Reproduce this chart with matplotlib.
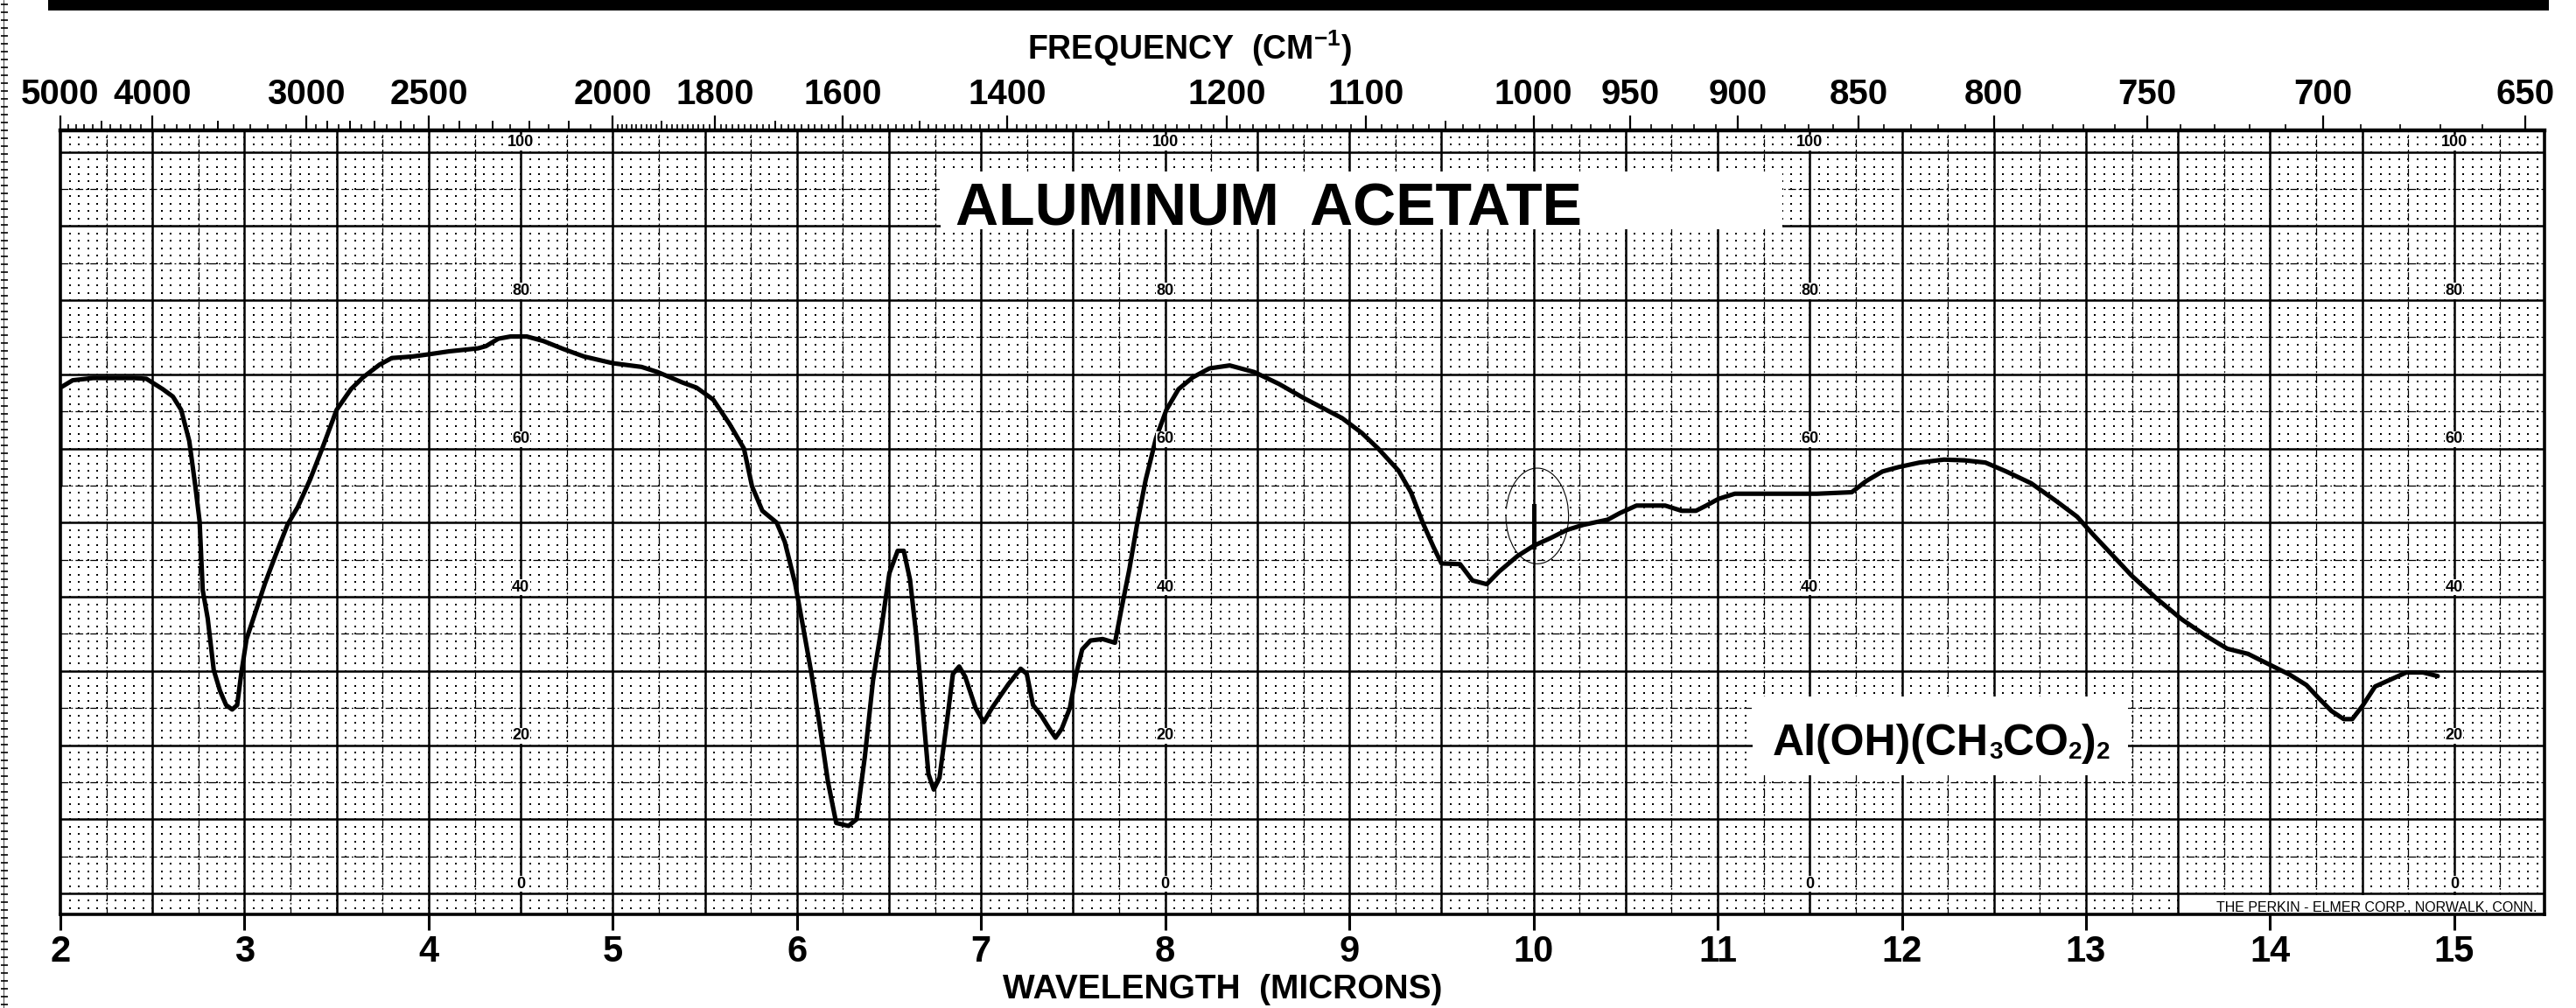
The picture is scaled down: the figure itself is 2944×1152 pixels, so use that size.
import matplotlib
matplotlib.use('Agg')
import matplotlib.pyplot as plt
import matplotlib.patches as mpatches
import matplotlib.lines as mlines
import numpy as np

plt.rcParams['font.family'] = ['Liberation Sans', 'DejaVu Sans']
plt.rcParams['mathtext.fontset'] = 'custom'
plt.rcParams['mathtext.rm'] = 'Liberation Sans:bold'
plt.rcParams['mathtext.it'] = 'Liberation Sans:bold'
plt.rcParams['mathtext.bf'] = 'Liberation Sans:bold'

# ============================================ data
# wavelength (microns) / transmittance (%)
wavelength = [2.0, 2.0, 2.067, 2.178, 2.4, 2.467, 2.556, 2.611, 2.656, 2.7,
              2.733, 2.756, 2.773, 2.8, 2.833, 2.867, 2.9, 2.933, 2.96, 2.982,
              3.011, 3.067, 3.111, 3.167, 3.233, 3.289, 3.356, 3.422, 3.5, 3.578,
              3.644, 3.733, 3.8, 3.911, 4.0, 4.111, 4.267, 4.311, 4.378, 4.444,
              4.533, 4.622, 4.733, 4.844, 5.0, 5.156, 5.244, 5.378, 5.455, 5.545,
              5.634, 5.712, 5.756, 5.812, 5.89, 5.934, 5.99, 6.035, 6.079, 6.124,
              6.168, 6.213, 6.28, 6.324, 6.369, 6.413, 6.458, 6.502, 6.547, 6.58,
              6.614, 6.648, 6.681, 6.714, 6.743, 6.774, 6.814, 6.847, 6.881, 6.914,
              6.97, 7.014, 7.059, 7.148, 7.215, 7.248, 7.282, 7.326, 7.371, 7.404,
              7.438, 7.482, 7.516, 7.549, 7.594, 7.66, 7.727, 7.76, 7.805, 7.85,
              7.894, 7.95, 8.006, 8.072, 8.15, 8.24, 8.35, 8.484, 8.618, 8.752,
              8.96, 9.067, 9.156, 9.267, 9.334, 9.4, 9.457, 9.5, 9.601, 9.668,
              9.746, 9.813, 9.913, 10.002, 10.091, 10.18, 10.27, 10.403, 10.47, 10.559,
              10.715, 10.804, 10.882, 10.938, 11.004, 11.093, 11.316, 11.539, 11.728, 11.806,
              11.895, 11.984, 12.096, 12.229, 12.34, 12.454, 12.567, 12.703, 12.839, 12.952,
              13.042, 13.133, 13.246, 13.382, 13.518, 13.654, 13.767, 13.88, 13.993, 14.106,
              14.197, 14.265, 14.333, 14.4, 14.446, 14.502, 14.57, 14.65, 14.74, 14.83,
              14.91]
transmittance = [55.0, 68.2, 69.2, 69.5, 69.5, 69.4, 68.0, 67.0, 65.2, 61.0,
                 54.9, 50.2, 40.9, 37.1, 30.1, 27.3, 25.4, 24.8, 25.4, 29.6,
                 34.3, 38.5, 41.8, 45.5, 49.7, 52.1, 55.8, 60.0, 65.2, 68.0,
                 69.6, 71.3, 72.2, 72.4, 72.7, 73.1, 73.5, 73.8, 74.8, 75.1,
                 75.1, 74.5, 73.4, 72.4, 71.5, 71.0, 70.3, 68.9, 68.2, 66.6,
                 63.3, 60.0, 54.9, 51.6, 50.0, 47.4, 41.8, 35.7, 29.6, 22.6,
                 15.1, 9.5, 9.1, 10.0, 18.5, 28.7, 35.7, 43.2, 46.2, 46.2,
                 42.3, 34.8, 25.4, 16.1, 14.0, 15.6, 23.1, 29.6, 30.6, 29.2,
                 25.0, 23.1, 25.0, 28.2, 30.3, 29.6, 25.4, 24.0, 22.2, 21.0,
                 22.2, 25.0, 29.6, 32.9, 34.1, 34.3, 33.8, 38.1, 43.7, 50.2,
                 55.8, 61.4, 65.2, 68.0, 69.6, 70.8, 71.2, 70.3, 68.7, 66.8,
                 64.1, 62.1, 60.0, 57.0, 54.1, 49.9, 46.7, 44.5, 44.4, 42.2,
                 41.7, 43.4, 45.5, 46.9, 47.9, 49.0, 49.7, 50.4, 51.3, 52.3,
                 52.3, 51.6, 51.6, 52.3, 53.2, 53.9, 53.9, 53.9, 54.1, 55.6,
                 56.9, 57.5, 58.1, 58.5, 58.4, 58.1, 56.9, 55.3, 52.9, 50.8,
                 48.3, 45.9, 42.9, 39.8, 37.0, 34.7, 33.0, 32.3, 30.9, 29.5,
                 28.1, 26.3, 24.6, 23.5, 23.5, 25.3, 27.9, 28.8, 29.8, 29.8,
                 29.3]

# pen marker on the trace near 10 microns, and the pencil ring around it
pen_mark_x = 10.0
pen_mark_span = [46.7, 52.3]
ring_center = (10.02, 50.9)
ring_size = (0.34, 12.9)

freq_labels = [5000, 4000, 3000, 2500, 2000, 1800, 1600, 1400, 1200, 1100,
               1000, 950, 900, 850, 800, 750, 700, 650]
freq_medium = [4500, 3500, 2900, 2800, 2700, 2600, 2400, 2300, 2200, 2100,
               1900, 1700, 1500, 1300, 1050]
micron_ticks = list(range(2, 16))
pct_labels = [0, 20, 40, 60, 80, 100]
pct_label_cols = [4.5, 8.0, 11.5, 15.0]

title = 'ALUMINUM  ACETATE'
# formula pieces: (text, is_subscript)
formula = [('Al(OH)(CH', False), ('3', True), ('CO', False), ('2', True),
           (')', False), ('2', True)]
maker = 'THE PERKIN - ELMER CORP., NORWALK, CONN.'

# boxes pasted over the paper: (x0, y0, x1, y1)
title_box = (6.78, 89.6, 11.35, 97.3)
formula_box = (11.19, 15.9, 13.23, 26.6)
maker_box = (13.52, -2.83, 15.49, -0.25)

# ============================================ figure / chart paper
W, H = 2944, 1152
fig = plt.figure(figsize=(W / 100, H / 100), dpi=100)
fig.patch.set_facecolor('white')
ax = fig.add_axes([69 / W, 1 - 1045 / H, (2908 - 69) / W, (1045 - 149) / H])
ax.set_xlim(2.0, 15.49)
ax.set_ylim(-2.83, 102.9)

# dotted fine grid (0.05 micron x 1 %)
gx, gy = np.meshgrid(np.arange(2.05, 15.49, 0.05), np.arange(-2, 103, 1))
ax.scatter(gx.ravel(), gy.ravel(), s=1.1, marker='s', c='black',
           linewidths=0, zorder=1)

# ruled lines
dashdot = (0, (7, 2.5, 1.5, 2.5))
xt = ax.get_xaxis_transform()
yt = ax.get_yaxis_transform()
ax.vlines(np.arange(2.5, 15.49, 0.5), 0, 1, transform=xt, color='black', lw=1.8, zorder=1.2)
ax.vlines(np.arange(2.25, 15.49, 0.5), 0, 1, transform=xt, color='black', lw=0.9,
          linestyles=[dashdot], zorder=1.2)
ax.hlines(np.arange(0, 101, 10), 0, 1, transform=yt, color='black', lw=1.8, zorder=1.2)
ax.hlines(np.arange(5, 100, 10), 0, 1, transform=yt, color='black', lw=0.9,
          linestyles=[dashdot], zorder=1.2)

for s in ax.spines.values():
    s.set_linewidth(2.6)
ax.spines['top'].set_linewidth(3.2)


def paste_box(box, z):
    x0, y0, x1, y1 = box
    ax.add_patch(mpatches.Rectangle((x0, y0), x1 - x0, y1 - y0, fc='white',
                                    ec='none', zorder=z))


def in_box(box, x, y):
    return box[0] <= x <= box[2] and box[1] <= y <= box[3]


paste_box(title_box, 4.5)
paste_box(formula_box, 4.5)
paste_box(maker_box, 2)

# spectrum trace
ax.plot(wavelength, transmittance, color='black', lw=3.7, zorder=3,
        solid_joinstyle='round', solid_capstyle='round')
ax.plot([pen_mark_x, pen_mark_x], pen_mark_span, color='black', lw=3.6, zorder=3.5)
ax.add_patch(mpatches.Arc(ring_center, ring_size[0], ring_size[1], theta1=200,
                          theta2=100, color='black', lw=0.8, zorder=3))

# % labels printed in the paper
for col in pct_label_cols:
    for v in pct_labels:
        y = v + 1.25
        if in_box(title_box, col, y) or in_box(formula_box, col, y):
            continue
        ax.text(col, y, str(v), ha='center', va='center', fontsize=13,
                fontweight='bold', zorder=4,
                bbox=dict(fc='white', ec='none', pad=0.4))

ax.text(6.86, 90.15, title, fontsize=49, fontweight='bold', ha='left',
        va='baseline', zorder=5)

# formula, built piece by piece so the subscripts sit low and small
first = ax.text(11.30, 18.6, formula[0][0], fontsize=36, fontweight='bold',
                ha='left', va='baseline', zorder=5)
prev = first
for piece, sub in formula[1:]:
    prev = ax.annotate(piece, xy=(1, 0), xycoords=(prev, first), ha='left',
                       va='bottom', fontsize=20 if sub else 36,
                       fontweight='bold', zorder=5)

ax.text(15.45, -2.45, maker, fontsize=11.5, ha='right', va='baseline', zorder=4)

# bottom wavelength axis
ax.set_yticks([])
ax.set_xticks(micron_ticks)
ax.set_xticklabels([str(m) for m in micron_ticks])
ax.tick_params(axis='x', which='major', direction='out', length=13, width=2.2,
               pad=3.5, labelsize=30, top=False)
for lab in ax.get_xticklabels():
    lab.set_fontweight('bold')

# top frequency axis
ax_top = ax.twiny()
ax_top.set_xlim(ax.get_xlim())
ax_top.set_xticks([1e4 / f for f in freq_labels])
ax_top.set_xticklabels([str(f) for f in freq_labels])
minor_freqs = list(range(4900, 3000, -100)) + list(range(2950, 2000, -50)) + \
    list(range(1990, 645, -10))
minor_freqs = [f for f in minor_freqs if f not in freq_labels and f not in freq_medium]
ax_top.set_xticks([1e4 / f for f in minor_freqs], minor=True)
ax_top.tick_params(axis='x', which='major', direction='out', length=12, width=1.6,
                   pad=4, labelsize=29, top=True, bottom=False)
ax_top.tick_params(axis='x', which='minor', direction='out', length=5, width=1.2,
                   top=True, bottom=False)
for lab in ax_top.get_xticklabels():
    lab.set_fontweight('bold')
for s in ax_top.spines.values():
    s.set_visible(False)

ax_mid = ax.twiny()
ax_mid.set_xlim(ax.get_xlim())
ax_mid.set_xticks([1e4 / f for f in freq_medium])
ax_mid.tick_params(axis='x', direction='out', length=8, width=1.4, top=True,
                   bottom=False, labeltop=False, labelbottom=False)
for s in ax_mid.spines.values():
    s.set_visible(False)

fig.text(1360 / W, 1 - 55 / H, r'FREQUENCY  (CM$^{-1}$)', fontsize=27,
         fontweight='bold', ha='center', va='center')
fig.text(1397 / W, 1 - 1131 / H, 'WAVELENGTH  (MICRONS)', fontsize=28,
         fontweight='bold', ha='center', va='center')

# black strip along the top edge and the sprocket edge at left
fig.add_artist(mpatches.Rectangle((55 / W, 1 - 12 / H), (2913 - 55) / W, 12 / H,
                                  transform=fig.transFigure, fc='black', ec='none'))
edge_y = np.arange(4, H, 9) / H
fig.add_artist(mlines.Line2D(np.full(edge_y.size, 5 / W), edge_y,
                             transform=fig.transFigure, ls='none', marker='_',
                             markersize=6, mew=1.2, color='black'))
fig.add_artist(mlines.Line2D([4 / W, 4 / W], [0, 1], transform=fig.transFigure,
                             lw=0.5, color='black'))

plt.savefig('out.png', dpi=100)
